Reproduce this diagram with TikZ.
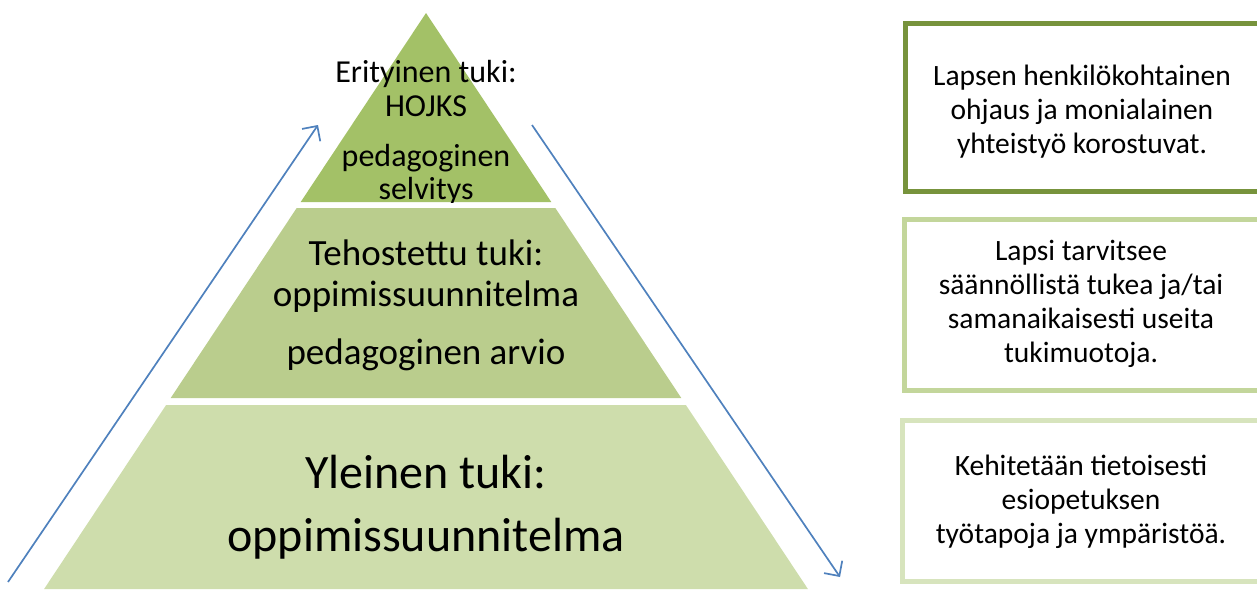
\documentclass[tikz,border=0pt]{standalone}
\usepackage{fontspec}
\setmainfont{Carlito}
\usetikzlibrary{arrows.meta}
\definecolor{tierA}{HTML}{A3C167}
\definecolor{tierB}{HTML}{BACD8D}
\definecolor{tierC}{HTML}{CEDDAC}
\definecolor{boxA}{HTML}{77933C}
\definecolor{boxB}{HTML}{C3D69B}
\definecolor{boxC}{HTML}{D7E4BD}
\definecolor{arrowblue}{HTML}{4F81BD}
\tikzset{
  lbl/.style={anchor=base, inner sep=0pt, text=black},
  infobox/.style={line width=5pt, fill=white},
  infotext/.style={align=center, inner sep=0pt, font=\fontsize{29.5}{34}\selectfont},
  flow/.style={draw=arrowblue, line width=1.7pt, -{Straight Barb[length=11pt,width=22pt,line width=1.7pt]}}
}
\begin{document}
\begin{tikzpicture}[x=1pt,y=-1pt]
\useasboundingbox (0,0) rectangle (1257,589);
% pyramid tiers
\fill[tierA] (426,13) -- (551.3,202) -- (300.7,202) -- cycle;
\begin{scope}
\clip (0,0) rectangle (1257,202);
\node[lbl, font=\fontsize{32}{36}\selectfont] (t1a) at (426,82) {Erityinen tuki:};
\node[lbl, font=\fontsize{32}{36}\selectfont] (t1b) at (426,116) {HOJKS};
\node[lbl, font=\fontsize{32}{36}\selectfont] (t1c) at (426,166) {pedagoginen};
\node[lbl, font=\fontsize{32}{36}\selectfont] (t1d) at (426,199) {selvitys};
\end{scope}
\fill[tierB] (296.7,208) -- (555.3,208) -- (681.3,398) -- (170.7,398) -- cycle;
\node[lbl, font=\fontsize{37}{42}\selectfont] (t2a) at (426,265) {Tehostettu tuki:};
\node[lbl, font=\fontsize{37}{42}\selectfont] (t2b) at (426,306) {oppimissuunnitelma};
\node[lbl, font=\fontsize{37}{42}\selectfont] (t2c) at (426,364) {pedagoginen arvio};
\fill[tierC] (166.1,405) -- (685.9,405) -- (807.9,589) -- (44.1,589) -- cycle;
\node[lbl, font=\fontsize{48}{56}\selectfont] (t3a) at (426,488) {Yleinen tuki:};
\node[lbl, font=\fontsize{48}{56}\selectfont] (t3b) at (426,551) {oppimissuunnitelma};
% arrows
\coordinate (upS) at (8,582);
\coordinate (upE) at (318,125);
\coordinate (dnS) at (532,125);
\coordinate (dnE) at (840,577);
\draw[flow] (upS) -- (upE);
\draw[flow] (dnS) -- (dnE);
% right boxes
\begin{scope}
\clip (0,0) rectangle (1257,589);
\draw[infobox, draw=boxA] (905.5,23.5) rectangle (1262,191.5);
\draw[infobox, draw=boxB] (904.5,219.5) rectangle (1262,390.5);
\draw[infobox, draw=boxC] (902.5,420.5) rectangle (1262,581.5);
\end{scope}
\node[infotext] (b1) at (1082,112) {Lapsen henkilökohtainen\\ohjaus ja monialainen\\yhteistyö korostuvat.};
\node[infotext] (b2) at (1081,304) {Lapsi tarvitsee\\säännöllistä tukea ja/tai\\samanaikaisesti useita\\tukimuotoja.};
\node[infotext] (b3) at (1081,502) {Kehitetään tietoisesti\\esiopetuksen\\työtapoja ja ympäristöä.};
\end{tikzpicture}
\end{document}
